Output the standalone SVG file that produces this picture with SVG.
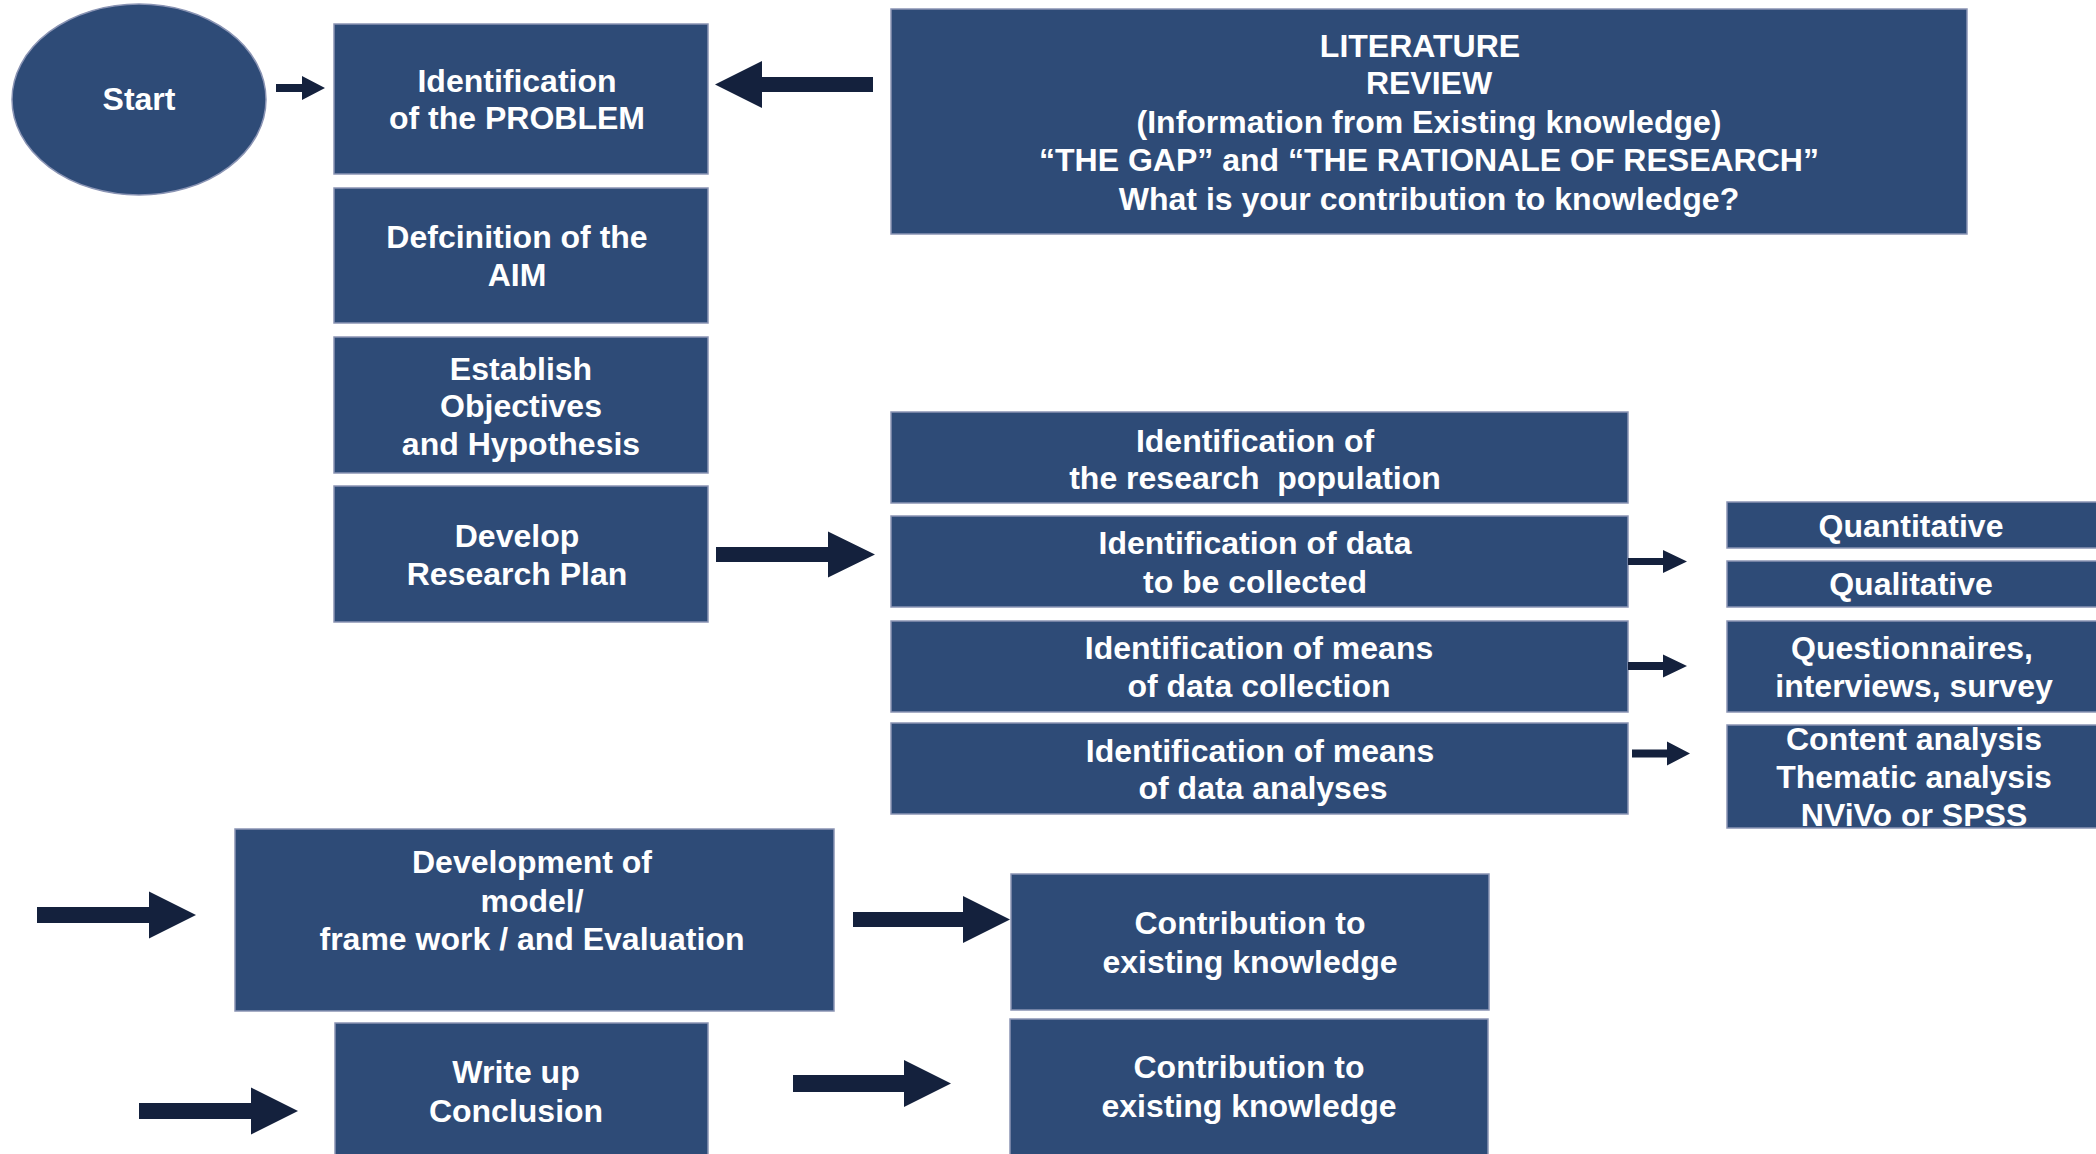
<svg xmlns="http://www.w3.org/2000/svg" width="2096" height="1154" viewBox="0 0 2096 1154">
<style>
.box{fill:#2E4B77;stroke:#8A94B4;stroke-width:1.5}
.t{font-family:"Liberation Sans",Arial,sans-serif;font-weight:bold;font-size:32px;fill:#FFFFFF;text-anchor:middle;white-space:pre}
.arr{fill:#14213D}
</style>
<rect width="2096" height="1154" fill="#FFFFFF"/>
<g id="start"><ellipse class="box" cx="139" cy="99.5" rx="127" ry="95.5"/><text class="t" x="139" y="110">Start</text></g>
<g id="ident-problem"><rect class="box" x="334" y="24" width="374" height="150"/><text class="t" x="517" y="92">Identification</text><text class="t" x="517" y="129">of the PROBLEM</text></g>
<g id="def-aim"><rect class="box" x="334" y="188" width="374" height="135"/><text class="t" x="517" y="248">Defcinition of the</text><text class="t" x="517" y="286">AIM</text></g>
<g id="objectives"><rect class="box" x="334" y="337" width="374" height="136"/><text class="t" x="521" y="380">Establish</text><text class="t" x="521" y="417">Objectives</text><text class="t" x="521" y="455">and Hypothesis</text></g>
<g id="research-plan"><rect class="box" x="334" y="486" width="374" height="136"/><text class="t" x="517" y="547">Develop</text><text class="t" x="517" y="585">Research Plan</text></g>
<g id="literature"><rect class="box" x="891" y="9" width="1076" height="225"/><text class="t" x="1420" y="57">LITERATURE</text><text class="t" x="1429" y="94">REVIEW</text><text class="t" x="1429" y="133">(Information from Existing knowledge)</text><text class="t" x="1429" y="171">“THE GAP” and “THE RATIONALE OF RESEARCH”</text><text class="t" x="1429" y="210">What is your contribution to knowledge?</text></g>
<g id="population"><rect class="box" x="891" y="412" width="737" height="91"/><text class="t" x="1255" y="452">Identification of</text><text class="t" x="1255" y="489">the research  population</text></g>
<g id="data-collected"><rect class="box" x="891" y="516" width="737" height="91"/><text class="t" x="1255" y="554">Identification of data</text><text class="t" x="1255" y="593">to be collected</text></g>
<g id="means-collection"><rect class="box" x="891" y="621" width="737" height="91"/><text class="t" x="1259" y="659">Identification of means</text><text class="t" x="1259" y="697">of data collection</text></g>
<g id="means-analyses"><rect class="box" x="891" y="723" width="737" height="91"/><text class="t" x="1260" y="762">Identification of means</text><text class="t" x="1263" y="799">of data analyses</text></g>
<g id="quantitative"><rect class="box" x="1727" y="502" width="375" height="46"/><text class="t" x="1911" y="537">Quantitative</text></g>
<g id="qualitative"><rect class="box" x="1727" y="561" width="375" height="46"/><text class="t" x="1911" y="595">Qualitative</text></g>
<g id="questionnaires"><rect class="box" x="1727" y="621" width="375" height="91"/><text class="t" x="1912" y="659">Questionnaires,</text><text class="t" x="1914" y="697">interviews, survey</text></g>
<g id="analysis-methods"><rect class="box" x="1727" y="725" width="375" height="103"/><text class="t" x="1914" y="750">Content analysis</text><text class="t" x="1914" y="788">Thematic analysis</text><text class="t" x="1914" y="826">NViVo or SPSS</text></g>
<g id="development"><rect class="box" x="235" y="829" width="599" height="182"/><text class="t" x="532" y="873">Development of</text><text class="t" x="532" y="912">model/</text><text class="t" x="532" y="950">frame work / and Evaluation</text></g>
<g id="write-up"><rect class="box" x="335" y="1023" width="373" height="140"/><text class="t" x="516" y="1083">Write up</text><text class="t" x="516" y="1122">Conclusion</text></g>
<g id="contribution-1"><rect class="box" x="1011" y="874" width="478" height="136"/><text class="t" x="1250" y="934">Contribution to</text><text class="t" x="1250" y="973">existing knowledge</text></g>
<g id="contribution-2"><rect class="box" x="1010" y="1019" width="478" height="144"/><text class="t" x="1249" y="1078">Contribution to</text><text class="t" x="1249" y="1117">existing knowledge</text></g>
<g id="connectors">
<polygon class="arr" points="276,84 302,84 302,76 325,88 302,100 302,92 276,92"/>
<polygon class="arr" points="873,77 762,77 762,61 715,84.5 762,108 762,92 873,92"/>
<polygon class="arr" points="716,547 828,547 828,531.5 875,554.5 828,577.5 828,562 716,562"/>
<polygon class="arr" points="1628,558 1663,558 1663,550 1687,561.5 1663,573 1663,565 1628,565"/>
<polygon class="arr" points="1628,662 1663,662 1663,654.5 1687,666 1663,677.5 1663,670 1628,670"/>
<polygon class="arr" points="1632,749.5 1667,749.5 1667,741.5 1690,753.5 1667,765.5 1667,757.5 1632,757.5"/>
<polygon class="arr" points="37,907 149,907 149,891.5 196,915 149,938.5 149,923 37,923"/>
<polygon class="arr" points="853,912 963,912 963,896 1010,919.5 963,943 963,927 853,927"/>
<polygon class="arr" points="139,1103 251,1103 251,1087.5 298,1111 251,1134.5 251,1119 139,1119"/>
<polygon class="arr" points="793,1075 904,1075 904,1060 951,1083.5 904,1107 904,1092 793,1092"/>
</g>
</svg>
